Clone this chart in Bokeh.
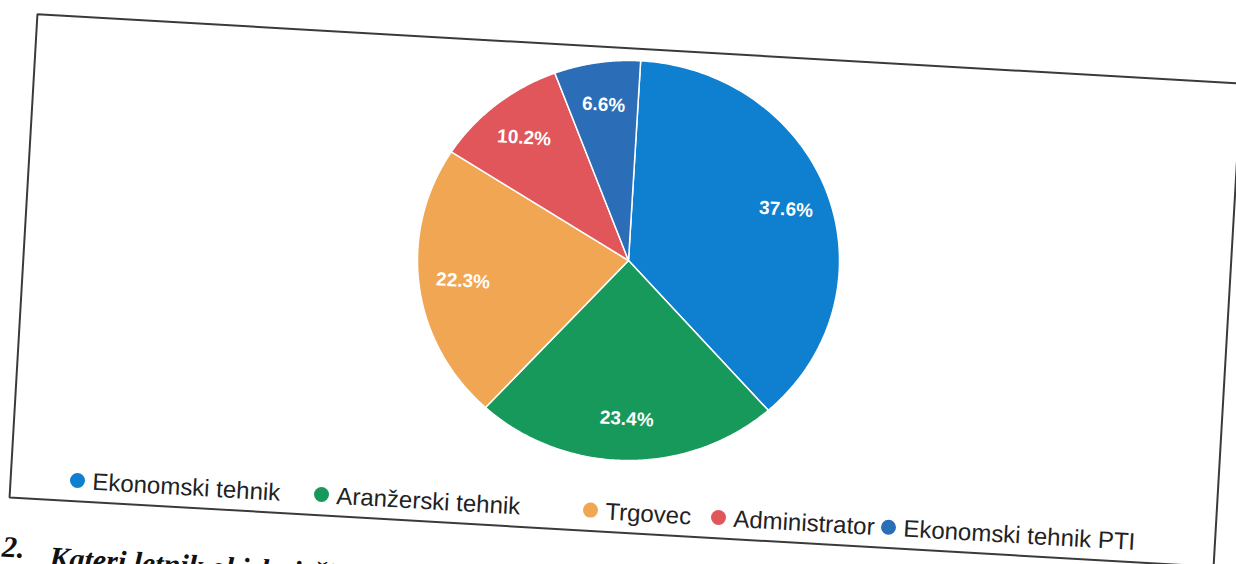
import numpy as np
from bokeh.plotting import figure
from bokeh.models import Range1d
from bokeh.core.properties import value
from bokeh.embed import file_html
from bokeh.resources import INLINE

# ---- data ----
categories = ["Ekonomski tehnik", "Aranžerski tehnik", "Trgovec", "Administrator", "Ekonomski tehnik PTI"]
shares = [37.6, 23.4, 22.3, 10.2, 6.6]
colors = ["#0f7fd0", "#17995b", "#f1a653", "#e0565b", "#2b6db6"]
question = ["2.", "Kateri letnik obiskuješ?"]

# ---- layout (scanned page is slightly tilted) ----
W, H = 1236, 564
rot = np.deg2rad(3.3)
cx, cy = 628.0, 260.0          # pie centre (page pixels)
rx, ry = 211.0, 200.0          # pie radii (scan slightly stretched)
label_r = 0.79
legend_x = [77, 321, 590, 718, 888]
legend_y0 = 480.0

p = figure(width=W, height=H, x_range=Range1d(0, W), y_range=Range1d(-H, 0),
           output_backend="svg", toolbar_location=None,
           x_axis_location=None, y_axis_location=None, min_border=0,
           outline_line_color=None, background_fill_color="white", border_fill_color="white")
p.grid.visible = False

# frame of the chart area
p.rect(x=[625], y=[-290], width=[1206], height=[484], angle=-rot,
       fill_color=None, line_color="#3a3a3a", line_width=2)

# pie slices
total = float(sum(shares))
fr = np.concatenate([[0.0], np.cumsum(shares)]) / total
xs, ys, lx, ly = [], [], [], []
for i in range(len(shares)):
    t = np.linspace(fr[i], fr[i + 1], 120) * 2 * np.pi + rot
    xs.append([cx] + list(cx + rx * np.sin(t)))
    ys.append([-cy] + list(-(cy - ry * np.cos(t))))
    m = (fr[i] + fr[i + 1]) / 2 * 2 * np.pi + rot
    lx.append(cx + label_r * rx * np.sin(m))
    ly.append(-(cy - label_r * ry * np.cos(m)))
p.patches(xs, ys, fill_color=colors, line_color="white", line_width=1.5)

labels = [f"{v}%" for v in shares]
p.text(lx, ly, text=labels, text_color="white", text_font=value("Liberation Sans"),
       text_font_size="19px", text_font_style="bold", text_align="center",
       text_baseline="middle", angle=-rot)

# legend along the tilted baseline
dx = np.array(legend_x, dtype=float)
dy = legend_y0 + (dx - legend_x[0]) * np.tan(rot)
p.scatter(dx, -dy, size=15, fill_color=colors, line_color=None)
tx = dx + 15 * np.cos(rot)
ty = dy + 15 * np.sin(rot)
p.text(tx, -ty, text=categories, text_color="#222222", text_font=value("Liberation Sans"),
       text_font_size="24px", text_align="left", text_baseline="middle", angle=-rot)

# question below the frame (cut off by the page edge)
qx = np.array([2.0, 50.0])
qy = 537.0 + qx * np.tan(rot)
p.text(qx, -qy, text=question, text_color="#111111", text_font=value("Liberation Serif"),
       text_font_size="30px", text_font_style="bold italic", text_align="left",
       text_baseline="top", angle=-rot)

open("out.html", "w").write(file_html(p, INLINE))
